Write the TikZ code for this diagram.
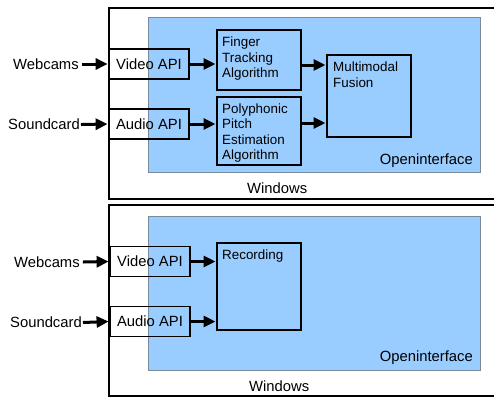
\documentclass[tikz,border=0pt]{standalone}
\usepackage{fontspec}
\setmainfont{Liberation Sans}
\usetikzlibrary{arrows.meta}
\definecolor{oiblue}{HTML}{99CCFF}
\definecolor{oiedge}{HTML}{7A8A99}
\tikzset{
  winbox/.style={draw=black, line width=1.6pt, fill=white},
  oibox/.style={draw=oiedge, line width=0.6pt, fill=oiblue},
  apibox/.style={draw=black, line width=1.8pt, minimum width=80pt, minimum height=30pt, inner sep=0pt, font=\fontsize{14.8}{17}\selectfont},
  procbox/.style={draw=black, line width=1.8pt, inner sep=0pt, anchor=north west},
  boxtext/.style={anchor=north west, inner sep=0pt, align=left, font=\fontsize{13.4}{15.5}\selectfont},
  outlabel/.style={inner sep=0pt, font=\fontsize{14.8}{17}\selectfont},
  flow/.style={line width=3pt, -{Triangle[length=12pt,width=11pt]}, shorten >=0.5pt}
}
\begin{document}
\begin{tikzpicture}[x=1pt,y=-1pt]
\useasboundingbox (0,0) rectangle (494,397);
% ---------- top panel ----------
\draw[winbox] (109,8) rectangle (505,199);
\draw[oibox] (148,17) rectangle (480,172);
\node[outlabel, anchor=east] (oi1) at (473,160.5) {Openinterface};
\node[outlabel, anchor=west] (win1) at (247,188) {Windows};
\node[apibox] (vapi1) at (149,64) {Video API};
\node[apibox] (aapi1) at (149,124) {Audio API};
\node[procbox, minimum width=84pt, minimum height=60pt] (fta) at (216,29) {};
\node[boxtext] (ftat) at (222,37) {Finger\\Tracking\\Algorithm};
\node[procbox, minimum width=84pt, minimum height=68pt] (ppe) at (216,96) {};
\node[boxtext] (ppet) at (222,103.5) {Polyphonic\\Pitch\\Estimation\\Algorithm};
\node[procbox, minimum width=84pt, minimum height=82pt] (mmf) at (326,54) {};
\node[boxtext] (mmft) at (333,62) {Multimodal\\Fusion};
\node[outlabel, anchor=west] (cam1) at (13,64) {Webcams};
\node[outlabel, anchor=west] (snd1) at (8,124.5) {Soundcard};
\draw[flow] (cam1.east)++(3,0) coordinate (c1s) -- (vapi1.west);
\draw[flow] (snd1.east)++(1,0) coordinate (s1s) -- (aapi1.west);
\draw[flow] (vapi1.east) -- (vapi1.east -| fta.west);
\draw[flow] (aapi1.east) -- (aapi1.east -| ppe.west);
\draw[flow] (fta.east |- 0,65) -- (mmf.west |- 0,65);
\draw[flow] (ppe.east |- 0,123) -- (mmf.west |- 0,123);
% ---------- bottom panel ----------
\draw[winbox] (109,205) rectangle (505,396);
\draw[oibox] (148,216) rectangle (480,370);
\node[outlabel, anchor=east] (oi2) at (473,358) {Openinterface};
\node[outlabel, anchor=west] (win2) at (249,386) {Windows};
\node[apibox] (vapi2) at (150,261.5) {Video API};
\node[apibox] (aapi2) at (150,321.5) {Audio API};
\node[procbox, minimum width=84pt, minimum height=87pt] (rec) at (216,242) {};
\node[boxtext] (rect) at (222,250) {Recording};
\node[outlabel, anchor=west] (cam2) at (14,262) {Webcams};
\node[outlabel, anchor=west] (snd2) at (10,322.5) {Soundcard};
\draw[flow] (cam2.east)++(3,0) coordinate (c2s) -- (vapi2.west);
\draw[flow] (snd2.east)++(1,0) coordinate (s2s) -- (aapi2.west);
\draw[flow] (vapi2.east) -- (vapi2.east -| rec.west);
\draw[flow] (aapi2.east) -- (aapi2.east -| rec.west);
\end{tikzpicture}
\end{document}
